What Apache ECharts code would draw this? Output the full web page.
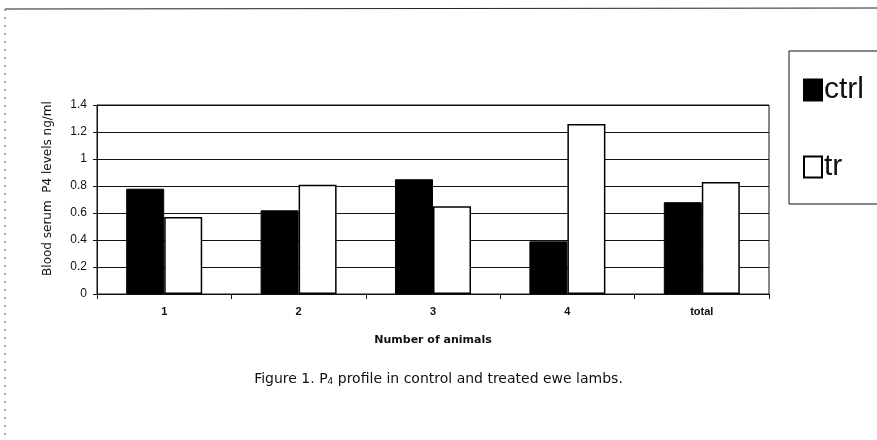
<!DOCTYPE html>
<html>
<head>
<meta charset="utf-8">
<script src="https://cdn.jsdelivr.net/npm/echarts@6/dist/echarts.min.js"></script>
<style>
  html, body { margin: 0; padding: 0; background: #fff; }
  #chart { width: 877px; height: 440px; }
</style>
</head>
<body>
<div id="chart"></div>
<script>
// data
var categories = ["1", "2", "3", "4", "total"];
var ctrlValues = [0.78, 0.62, 0.85, 0.39, 0.68];
var trValues = [0.57, 0.81, 0.65, 1.26, 0.83];
var seriesNames = ["ctrl", "tr"];

var font = "Arial, 'Liberation Sans', sans-serif";
var wideFont = "'DejaVu Sans', Verdana, sans-serif";
var myChart = echarts.init(document.getElementById("chart"));

myChart.setOption({
  animation: false,
  backgroundColor: "#fff",
  // caption under the chart
  title: {
    left: "center",
    top: 367,
    text: "{a|Figure 1. P}{s|4}{a| profile in control and treated ewe lambs.}",
    textStyle: {
      rich: {
        a: { fontFamily: wideFont, fontSize: 14, fontWeight: "normal", color: "#111" },
        s: { fontFamily: wideFont, fontSize: 9, fontWeight: "normal", color: "#111", verticalAlign: "bottom", padding: [5, 0, 0, 0] },
      },
    },
  },
  legend: {
    orient: "vertical",
    left: 789,
    top: 51,
    padding: [24, 40, 22, 14],
    itemGap: 47,
    itemWidth: 18,
    itemHeight: 21,
    icon: "rect",
    borderColor: "#111",
    borderWidth: 1,
    data: seriesNames,
    textStyle: { fontFamily: font, fontSize: 30, color: "#111", padding: [0, 0, 0, -3] },
  },
  grid: {
    left: 97,
    right: 108,
    top: 105,
    bottom: 146,
    show: true,
    borderColor: "#111",
    borderWidth: 1,
  },
  xAxis: {
    type: "category",
    data: categories,
    name: "Number of animals",
    nameLocation: "middle",
    nameGap: 41,
    nameTextStyle: { fontFamily: wideFont, fontSize: 11, fontWeight: "bold", color: "#111" },
    axisLine: { lineStyle: { color: "#111", width: 1 } },
    axisTick: { show: true, length: 5, lineStyle: { color: "#111" } },
    axisLabel: { fontFamily: font, fontSize: 11, fontWeight: "bold", color: "#111", margin: 12 },
  },
  yAxis: {
    type: "value",
    min: 0,
    max: 1.4,
    interval: 0.2,
    name: "Blood serum  P4 levels ng/ml",
    nameLocation: "middle",
    nameGap: 43,
    nameTextStyle: { fontFamily: wideFont, fontSize: 12, color: "#111", padding: [0, 0, 0, 22] },
    axisLine: { show: true, lineStyle: { color: "#111", width: 1 } },
    axisTick: { show: true, length: 4, lineStyle: { color: "#111" } },
    axisLabel: { fontFamily: font, fontSize: 12, color: "#111", margin: 10 },
    splitLine: { show: true, lineStyle: { color: "#111", width: 1 } },
  },
  series: [
    {
      name: seriesNames[0],
      type: "bar",
      data: ctrlValues,
      barWidth: 38,
      barGap: "0%",
      itemStyle: { color: "#000", borderColor: "#000", borderWidth: 1 },
    },
    {
      name: seriesNames[1],
      type: "bar",
      data: trValues,
      barWidth: 38,
      barGap: "0%",
      itemStyle: { color: "#fff", borderColor: "#000", borderWidth: 1.5 },
    },
  ],
  // page frame lines from the scan
  graphic: [
    { type: "line", shape: { x1: 5, y1: 9, x2: 877, y2: 8 }, style: { stroke: "#222", lineWidth: 1 } },
    { type: "line", shape: { x1: 5, y1: 9, x2: 5, y2: 440 }, style: { stroke: "#555", lineWidth: 1, lineDash: [2, 6] } },
  ],
});
</script>
</body>
</html>
